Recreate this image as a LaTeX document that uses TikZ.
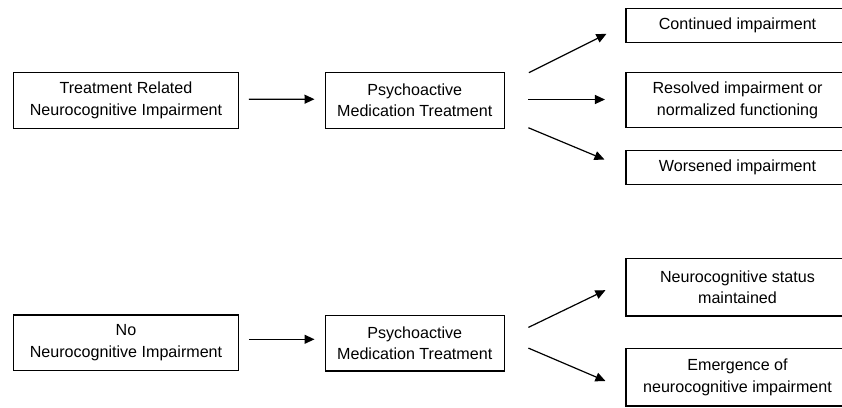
\documentclass[tikz,border=0pt]{standalone}
\usepackage{fontspec}
\setmainfont{Liberation Sans}
\usetikzlibrary{arrows.meta}
\tikzset{
	outcome/.style={draw,line width=1.1pt,align=center,inner sep=0pt,font=\fontsize{16.1}{21.7}\selectfont},
	flow/.style={line width=1.2pt,-{Triangle[length=10pt,width=9pt]}}
}

\begin{document}
\begin{tikzpicture}[x=1pt,y=-1pt]
					\useasboundingbox (0,0) rectangle (842,407);
					
					% top row
					\node[outcome,minimum width=224.6pt,minimum height=56pt] (trt) at (126,100.3) {Treatment Related\\Neurocognitive Impairment};
					\node[outcome,minimum width=179.3pt,minimum height=56pt] (psyA) at (414.7,100.2) {Psychoactive\\Medication Treatment};
					\node[outcome,minimum width=223pt,minimum height=34pt] (cont) at (737.5,25.3) {Continued impairment};
					\node[outcome,minimum width=223pt,minimum height=55pt] (resol) at (737.5,100) {Resolved impairment or\\normalized functioning};
					\node[outcome,minimum width=223pt,minimum height=34.3pt] (worse) at (737.5,167.2) {Worsened impairment};
					
					% bottom row
					\node[outcome,minimum width=224.6pt,minimum height=55.7pt] (none) at (126,342.8) {No\\Neurocognitive Impairment};
					\node[outcome,minimum width=179.3pt,minimum height=55.7pt] (psyB) at (414.7,343.1) {Psychoactive\\Medication Treatment};
					\node[outcome,minimum width=223pt,minimum height=57.3pt] (maint) at (737.5,287.3) {Neurocognitive status\\maintained};
					\node[outcome,minimum width=223pt,minimum height=57.3pt] (emerg) at (737.5,377.3) {Emergence of\\neurocognitive impairment};
					
					% arrows
					\draw[flow] ([shift={(10,-1)}]trt.east) -- ([shift={(-10,-1)}]psyA.west);
					\draw[flow] ([shift={(24,1)}]psyA.north east) -- ([shift={(-19,-9)}]cont.south west);
					\draw[flow] ([shift={(23.5,-0.7)}]psyA.east) -- ([shift={(-20.5,-0.5)}]resol.west);
					\draw[flow] ([shift={(23.5,-1)}]psyA.south east) -- ([shift={(-21,10)}]worse.north west);
					
					\draw[flow] ([shift={(10,-3.5)}]none.east) -- ([shift={(-10,-3.8)}]psyB.west);
					\draw[flow] ([shift={(23.5,12.7)}]psyB.north east) -- ([shift={(-20,-26.3)}]maint.south west);
					\draw[flow] ([shift={(23.5,5)}]psyB.east) -- ([shift={(-20,3.7)}]emerg.west);
\end{tikzpicture}
\end{document}
